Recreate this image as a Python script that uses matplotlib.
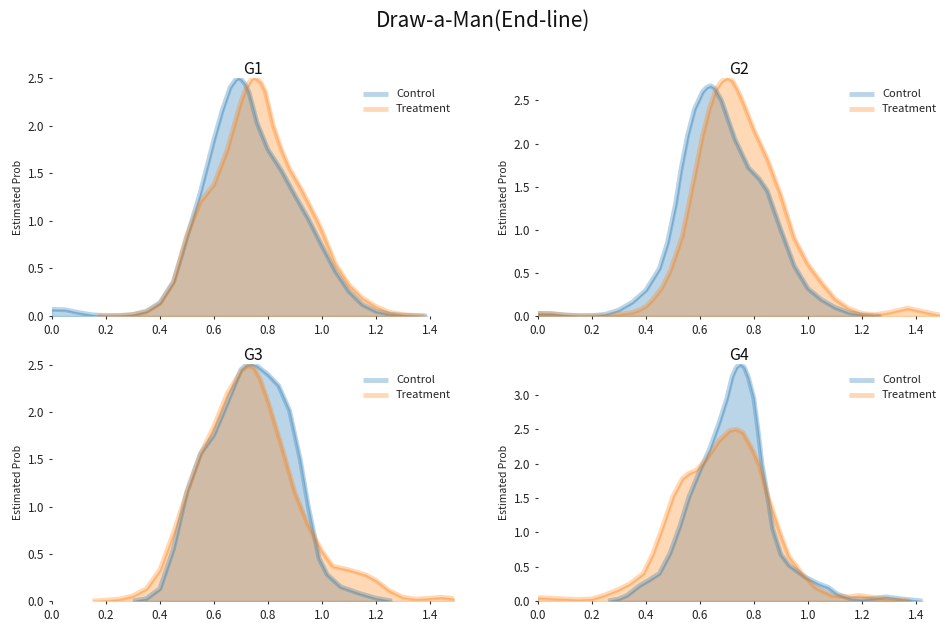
import matplotlib
matplotlib.use("Agg")
import matplotlib.pyplot as plt

plt.rcParams['font.family'] = ['Noto Sans CJK JP', 'DejaVu Sans']

groups = ["G1", "G2", "G3", "G4"]
series_names = ["Control", "Treatment"]
colors = ["#1f77b4", "#ff7f0e"]

# G1
g1_ctrl_x = [0.0, 0.05, 0.1, 0.15, 0.2, 0.25, 0.3, 0.35, 0.4, 0.45, 0.475, 0.5, 0.55, 0.6, 0.63, 0.66, 0.68, 0.69, 0.7, 0.715, 0.73, 0.76, 0.8, 0.85, 0.9, 0.95, 1.0, 1.05, 1.1, 1.15, 1.2, 1.25, 1.3, 1.39]
g1_ctrl_y = [0.07, 0.065, 0.035, 0.012, 0.004, 0.005, 0.015, 0.05, 0.14, 0.36, 0.59, 0.83, 1.3, 1.85, 2.15, 2.4, 2.48, 2.5, 2.49, 2.44, 2.35, 2.03, 1.75, 1.53, 1.27, 1.02, 0.74, 0.47, 0.26, 0.12, 0.05, 0.02, 0.008, 0.0]
g1_trt_x = [0.17, 0.25, 0.3, 0.35, 0.4, 0.45, 0.5, 0.55, 0.6, 0.65, 0.7, 0.72, 0.74, 0.75, 0.76, 0.775, 0.79, 0.82, 0.85, 0.88, 0.93, 0.98, 1.0, 1.05, 1.1, 1.15, 1.2, 1.25, 1.3, 1.38]
g1_trt_y = [0.0, 0.003, 0.015, 0.045, 0.13, 0.35, 0.85, 1.2, 1.38, 1.75, 2.25, 2.4, 2.49, 2.5, 2.49, 2.45, 2.36, 2.0, 1.75, 1.55, 1.3, 1.02, 0.9, 0.55, 0.33, 0.19, 0.1, 0.04, 0.015, 0.0]

# G2
g2_ctrl_x = [0.0, 0.05, 0.1, 0.15, 0.2, 0.25, 0.3, 0.35, 0.4, 0.45, 0.48, 0.51, 0.53, 0.555, 0.58, 0.61, 0.625, 0.64, 0.655, 0.68, 0.73, 0.78, 0.82, 0.85, 0.9, 0.95, 1.0, 1.05, 1.1, 1.15, 1.2, 1.27]
g2_ctrl_y = [0.03, 0.028, 0.012, 0.004, 0.004, 0.02, 0.07, 0.16, 0.3, 0.55, 0.85, 1.3, 1.7, 2.1, 2.4, 2.6, 2.65, 2.67, 2.64, 2.5, 2.05, 1.72, 1.59, 1.45, 1.0, 0.58, 0.32, 0.19, 0.1, 0.04, 0.012, 0.0]
g2_trt_x = [0.0, 0.05, 0.1, 0.15, 0.2, 0.25, 0.3, 0.35, 0.375, 0.4, 0.425, 0.46, 0.49, 0.51, 0.535, 0.56, 0.585, 0.61, 0.635, 0.66, 0.68, 0.7, 0.72, 0.74, 0.76, 0.8, 0.85, 0.9, 0.95, 1.0, 1.05, 1.1, 1.15, 1.2, 1.25, 1.3, 1.37, 1.43, 1.49]
g2_trt_y = [0.03, 0.025, 0.01, 0.003, 0.002, 0.005, 0.02, 0.04, 0.07, 0.11, 0.19, 0.33, 0.52, 0.7, 0.93, 1.31, 1.7, 2.09, 2.4, 2.63, 2.72, 2.76, 2.73, 2.62, 2.48, 2.16, 1.82, 1.4, 0.9, 0.6, 0.39, 0.2, 0.09, 0.03, 0.015, 0.04, 0.09, 0.05, 0.01]

# G3
g3_ctrl_x = [0.3, 0.35, 0.4, 0.45, 0.5, 0.55, 0.6, 0.65, 0.7, 0.72, 0.74, 0.76, 0.8, 0.84, 0.88, 0.92, 0.95, 0.99, 1.02, 1.07, 1.14, 1.2, 1.26]
g3_ctrl_y = [0.0, 0.025, 0.13, 0.55, 1.16, 1.56, 1.76, 2.1, 2.45, 2.5, 2.51, 2.49, 2.4, 2.28, 2.02, 1.5, 1.0, 0.45, 0.28, 0.15, 0.08, 0.03, 0.0]
g3_trt_x = [0.15, 0.2, 0.25, 0.3, 0.35, 0.4, 0.45, 0.5, 0.55, 0.6, 0.65, 0.7, 0.72, 0.735, 0.75, 0.77, 0.8, 0.85, 0.9, 0.95, 1.0, 1.04, 1.1, 1.16, 1.2, 1.25, 1.3, 1.35, 1.4, 1.44, 1.49]
g3_trt_y = [0.0, 0.008, 0.02, 0.055, 0.13, 0.33, 0.72, 1.15, 1.55, 1.85, 2.2, 2.43, 2.48, 2.49, 2.46, 2.36, 2.12, 1.65, 1.15, 0.8, 0.53, 0.37, 0.33, 0.28, 0.22, 0.11, 0.04, 0.02, 0.03, 0.04, 0.025]

# G4
g4_ctrl_x = [0.26, 0.3, 0.33, 0.375, 0.41, 0.45, 0.49, 0.525, 0.56, 0.6, 0.635, 0.67, 0.7, 0.72, 0.735, 0.75, 0.765, 0.78, 0.8, 0.815, 0.83, 0.85, 0.87, 0.9, 0.93, 0.99, 1.04, 1.075, 1.11, 1.16, 1.2, 1.25, 1.29, 1.35, 1.425]
g4_ctrl_y = [0.0, 0.03, 0.08, 0.22, 0.3, 0.4, 0.7, 1.08, 1.52, 1.9, 2.2, 2.58, 2.95, 3.27, 3.4, 3.45, 3.4, 3.25, 2.95, 2.5, 2.0, 1.55, 1.05, 0.68, 0.52, 0.35, 0.25, 0.2, 0.1, 0.03, 0.02, 0.04, 0.06, 0.03, 0.0]
g4_trt_x = [0.0, 0.05, 0.1, 0.15, 0.2, 0.25, 0.3, 0.34, 0.39, 0.425, 0.46, 0.5, 0.535, 0.56, 0.585, 0.62, 0.67, 0.71, 0.735, 0.76, 0.795, 0.82, 0.85, 0.9, 0.93, 0.98, 1.03, 1.09, 1.15, 1.19, 1.25, 1.3, 1.38]
g4_trt_y = [0.05, 0.04, 0.03, 0.022, 0.03, 0.09, 0.17, 0.25, 0.4, 0.68, 1.06, 1.52, 1.78, 1.86, 1.9, 2.04, 2.33, 2.48, 2.5, 2.45, 2.2, 1.98, 1.55, 0.96, 0.65, 0.39, 0.19, 0.08, 0.06, 0.08, 0.05, 0.025, 0.0]

data = {
    "G1": [(g1_ctrl_x, g1_ctrl_y), (g1_trt_x, g1_trt_y)],
    "G2": [(g2_ctrl_x, g2_ctrl_y), (g2_trt_x, g2_trt_y)],
    "G3": [(g3_ctrl_x, g3_ctrl_y), (g3_trt_x, g3_trt_y)],
    "G4": [(g4_ctrl_x, g4_ctrl_y), (g4_trt_x, g4_trt_y)],
}

W, H = 940, 623
fig = plt.figure(figsize=(W / 100, H / 100), dpi=100)

ax_w = 402
positions = {
    "G1": (52, 78, 316),
    "G2": (538, 78, 316),
    "G3": (52, 364, 601),
    "G4": (538, 364, 601),
}

xticks = [0.0, 0.2, 0.4, 0.6, 0.8, 1.0, 1.2, 1.4]

for g in groups:
    x0, top, bottom = positions[g]
    ax_h = bottom - top
    ax = fig.add_axes([x0 / W, 1 - bottom / H, ax_w / W, ax_h / H])
    ymax = 0
    for (xs, ys), name, c in zip(data[g], series_names, colors):
        ax.fill_between(xs, 0, ys, facecolor=c, edgecolor=c, alpha=0.3, linewidth=1.0)
        ax.plot(xs, ys, color=c, lw=3.5, alpha=0.3, label=name, solid_capstyle='butt',
                solid_joinstyle='round')
        ymax = max(ymax, max(ys))
    ax.set_xlim(0, 1.49)
    ax.set_ylim(0, ymax)
    ax.set_xticks(xticks)
    ax.set_xticklabels([f"{t:.1f}" for t in xticks])
    yt = [i * 0.5 for i in range(int(ymax / 0.5) + 1)]
    ax.set_yticks(yt)
    ax.set_yticklabels([f"{t:.1f}" for t in yt])
    for s in ax.spines.values():
        s.set_visible(False)
    ax.tick_params(axis='both', labelsize=8.5, length=2.5, width=0.8, color='#333333', labelcolor='#222222', pad=3)
    ax.set_ylabel("Estimated Prob", fontsize=7.5, color='#222222')
    ax.yaxis.set_label_coords(-0.072, 0.5)
    ax.set_title(g, fontsize=11.5, pad=2, color='#111111')
    leg = ax.legend(loc='upper right', bbox_to_anchor=(1.004, 1.0 - 7.0 / ax_h), frameon=False,
                    fontsize=8, handlelength=2.3, borderaxespad=0.0, labelspacing=0.45,
                    handletextpad=0.7)
    for t in leg.get_texts():
        t.set_color('#222222')

fig.text(0.514, 0.966, "Draw-a-Man(End-line)", ha='center', va='center', fontsize=15, color='#111111')

fig.savefig("out.png", dpi=100)
